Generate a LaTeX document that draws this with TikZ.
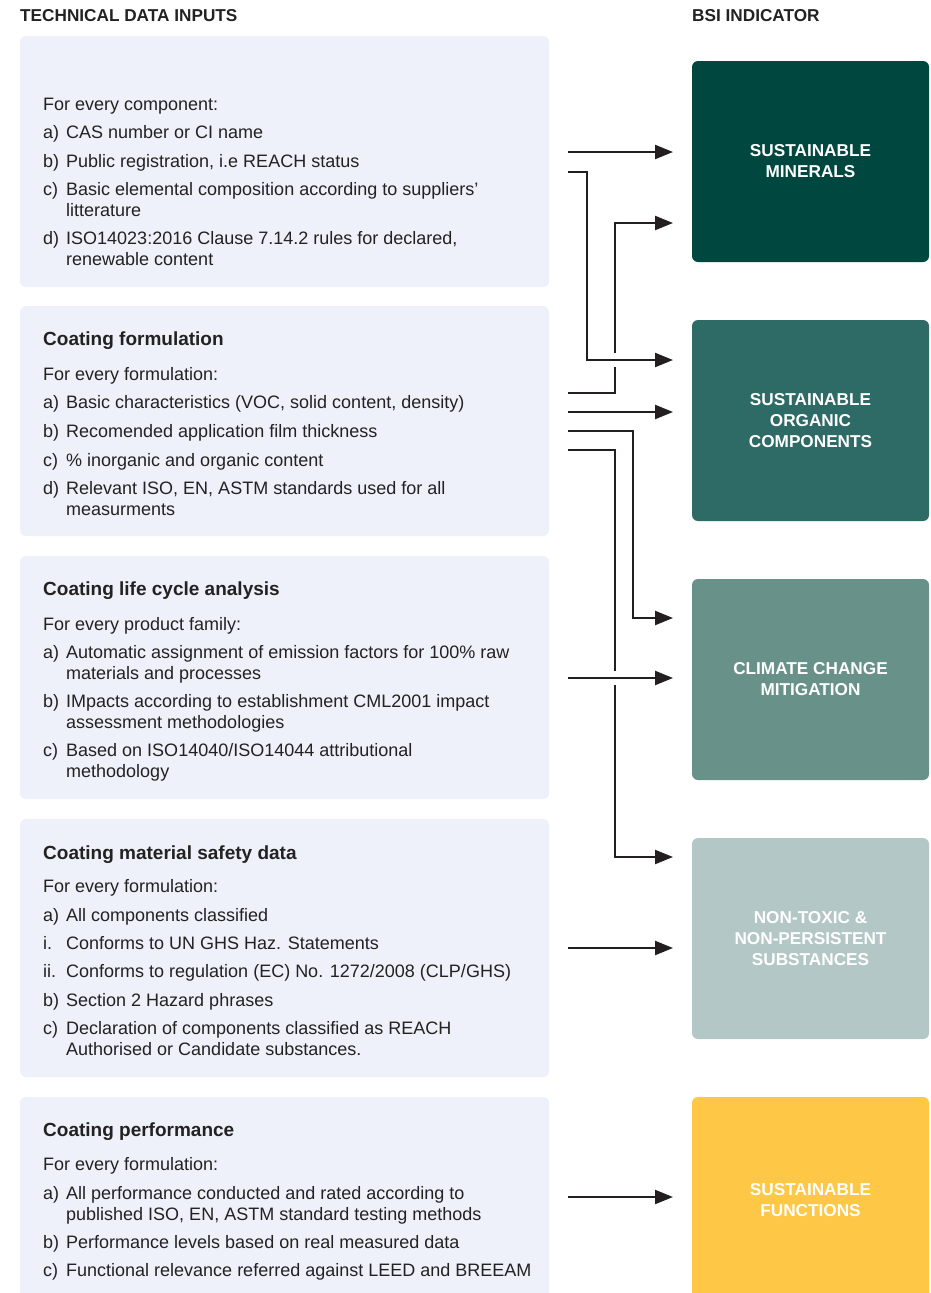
\documentclass[tikz,border=0pt]{standalone}
\usepackage{fontspec}
\setmainfont{Liberation Sans}
\usetikzlibrary{arrows.meta}
\definecolor{ink}{HTML}{222222}
\definecolor{panel}{HTML}{EEF1F9}
\definecolor{bsiA}{HTML}{00473F}
\definecolor{bsiB}{HTML}{2E6B66}
\definecolor{bsiC}{HTML}{689189}
\definecolor{bsiD}{HTML}{B3C8C6}
\definecolor{bsiE}{HTML}{FEC745}
\definecolor{wire}{HTML}{231F20}
\begin{document}
\begin{tikzpicture}[x=1pt,y=-1pt,
  panelbox/.style={fill=panel, rounded corners=6pt, inner sep=0pt, outer sep=0pt, anchor=north west, minimum width=529pt},
  bsibox/.style={rounded corners=6pt, inner sep=0pt, outer sep=0pt, anchor=north west, minimum width=237pt, text=white, align=center, font=\fontsize{17.2}{21}\selectfont\bfseries},
  body/.style={anchor=base west, inner sep=0pt, text=ink, font=\fontsize{18}{20}\selectfont},
  head/.style={anchor=base west, inner sep=0pt, text=ink, font=\fontsize{19}{22}\selectfont\bfseries},
  coltitle/.style={anchor=base west, inner sep=0pt, text=ink, font=\fontsize{17.2}{20}\selectfont\bfseries},
  wire/.style={draw=wire, line width=2.3pt},
  arr/.style={wire, -{Triangle[length=18pt,width=14pt]}, shorten >=19pt},
  halo/.style={preaction={draw=white, line width=14pt, -}}
]
\useasboundingbox (0,0) rectangle (931,1293);
\clip (0,0) rectangle (931,1293);
\fill[white] (0,0) rectangle (931,1293);

% column titles
\node[coltitle] (tin) at (20,21) {TECHNICAL DATA INPUTS};
\node[coltitle] (tbsi) at (692,21) {BSI INDICATOR};

% left panels
\node[panelbox, minimum height=251pt] (L1) at (20,36) {};
\node[panelbox, minimum height=230pt] (L2) at (20,306) {};
\node[panelbox, minimum height=243pt] (L3) at (20,556) {};
\node[panelbox, minimum height=258pt] (L4) at (20,819) {};
\node[panelbox, minimum height=220pt] (L5) at (20,1097) {};

% right indicator boxes
\node[bsibox, fill=bsiA, minimum height=201pt] (R1) at (692,61) {SUSTAINABLE\\MINERALS};
\node[bsibox, fill=bsiB, minimum height=201pt] (R2) at (692,320) {SUSTAINABLE\\ORGANIC\\COMPONENTS};
\node[bsibox, fill=bsiC, minimum height=201pt] (R3) at (692,579) {CLIMATE CHANGE\\MITIGATION};
\node[bsibox, fill=bsiD, minimum height=201pt] (R4) at (692,838) {NON-TOXIC \&\\NON-PERSISTENT\\SUBSTANCES};
\node[bsibox, fill=bsiE, minimum height=206pt] (R5) at (692,1097) {SUSTAINABLE\\FUNCTIONS};

% panel 1
\node[body] (a0) at (43,110) {For every component:};
\node[body] (a1l) at (43,138) {a)};
\node[body] (a1) at (66,138) {CAS number or CI name};
\node[body] (a2l) at (43,167) {b)};
\node[body] (a2) at (66,167) {Public registration, i.e REACH status};
\node[body] (a3l) at (43,195) {c)};
\node[body] (a3) at (66,195) {Basic elemental composition according to suppliers’};
\node[body] (a3b) at (66,216) {litterature};
\node[body] (a4l) at (43,244) {d)};
\node[body] (a4) at (66,244) {ISO14023:2016 Clause 7.14.2 rules for declared,};
\node[body] (a4b) at (66,265) {renewable content};

% panel 2
\node[head] (bh) at (43,345) {Coating formulation};
\node[body] (b0) at (43,380) {For every formulation:};
\node[body] (b1l) at (43,408) {a)};
\node[body] (b1) at (66,408) {Basic characteristics (VOC, solid content, density)};
\node[body] (b2l) at (43,437) {b)};
\node[body] (b2) at (66,437) {Recomended application film thickness};
\node[body] (b3l) at (43,466) {c)};
\node[body] (b3) at (66,466) {\% inorganic and organic content};
\node[body] (b4l) at (43,494) {d)};
\node[body] (b4) at (66,494) {Relevant ISO, EN, ASTM standards used for all};
\node[body] (b4b) at (66,515) {measurments};

% panel 3
\node[head] (ch) at (43,595) {Coating life cycle analysis};
\node[body] (c0) at (43,630) {For every product family:};
\node[body] (c1l) at (43,658) {a)};
\node[body] (c1) at (66,658) {Automatic assignment of emission factors for 100\% raw};
\node[body] (c1b) at (66,679) {materials and processes};
\node[body] (c2l) at (43,707) {b)};
\node[body] (c2) at (66,707) {IMpacts according to establishment CML2001 impact};
\node[body] (c2b) at (66,728) {assessment methodologies};
\node[body] (c3l) at (43,756) {c)};
\node[body] (c3) at (66,756) {Based on ISO14040/ISO14044 attributional};
\node[body] (c3b) at (66,777) {methodology};

% panel 4
\node[head] (dh) at (43,859) {Coating material safety data};
\node[body] (d0) at (43,892) {For every formulation:};
\node[body] (d1l) at (43,921) {a)};
\node[body] (d1) at (66,921) {All components classified};
\node[body] (d2l) at (43,949) {i.};
\node[body] (d2) at (66,949) {Conforms to UN GHS Haz. Statements};
\node[body] (d3l) at (43,977) {ii.};
\node[body] (d3) at (66,977) {Conforms to regulation (EC) No. 1272/2008 (CLP/GHS)};
\node[body] (d4l) at (43,1006) {b)};
\node[body] (d4) at (66,1006) {Section 2 Hazard phrases};
\node[body] (d5l) at (43,1034) {c)};
\node[body] (d5) at (66,1034) {Declaration of components classified as REACH};
\node[body] (d5b) at (66,1055) {Authorised or Candidate substances.};

% panel 5
\node[head] (eh) at (43,1136) {Coating performance};
\node[body] (e0) at (43,1170) {For every formulation:};
\node[body] (e1l) at (43,1199) {a)};
\node[body] (e1) at (66,1199) {All performance conducted and rated according to};
\node[body] (e1b) at (66,1220) {published ISO, EN, ASTM standard testing methods};
\node[body] (e2l) at (43,1248) {b)};
\node[body] (e2) at (66,1248) {Performance levels based on real measured data};
\node[body] (e3l) at (43,1276) {c)};
\node[body] (e3) at (66,1276) {Functional relevance referred against LEED and BREEAM};

% connector start points
\coordinate (o1) at (568,152);
\coordinate (o2) at (568,172);
\coordinate (o3) at (568,393);
\coordinate (o4) at (568,412);
\coordinate (o5) at (568,431);
\coordinate (o6) at (568,450);
\coordinate (o7) at (568,678);
\coordinate (o8) at (568,948);
\coordinate (o9) at (568,1197);

% connectors (crossed ones first)
\draw[arr] (o3) -| (615,223) -- (R1.west |- 0,223);
\draw[arr] (o6) -| (615,857) -- (R4.west |- 0,857);
\draw[arr, halo] (o2) -| (587,360) -- (R2.west |- 0,360);
\draw[arr, halo] (o7) -- (R3.west |- o7);
\draw[arr] (o1) -- (R1.west |- o1);
\draw[arr] (o4) -- (R2.west |- o4);
\draw[arr] (o5) -| (633,618) -- (R3.west |- 0,618);
\draw[arr] (o8) -- (R4.west |- o8);
\draw[arr] (o9) -- (R5.west |- o9);
\end{tikzpicture}
\end{document}
